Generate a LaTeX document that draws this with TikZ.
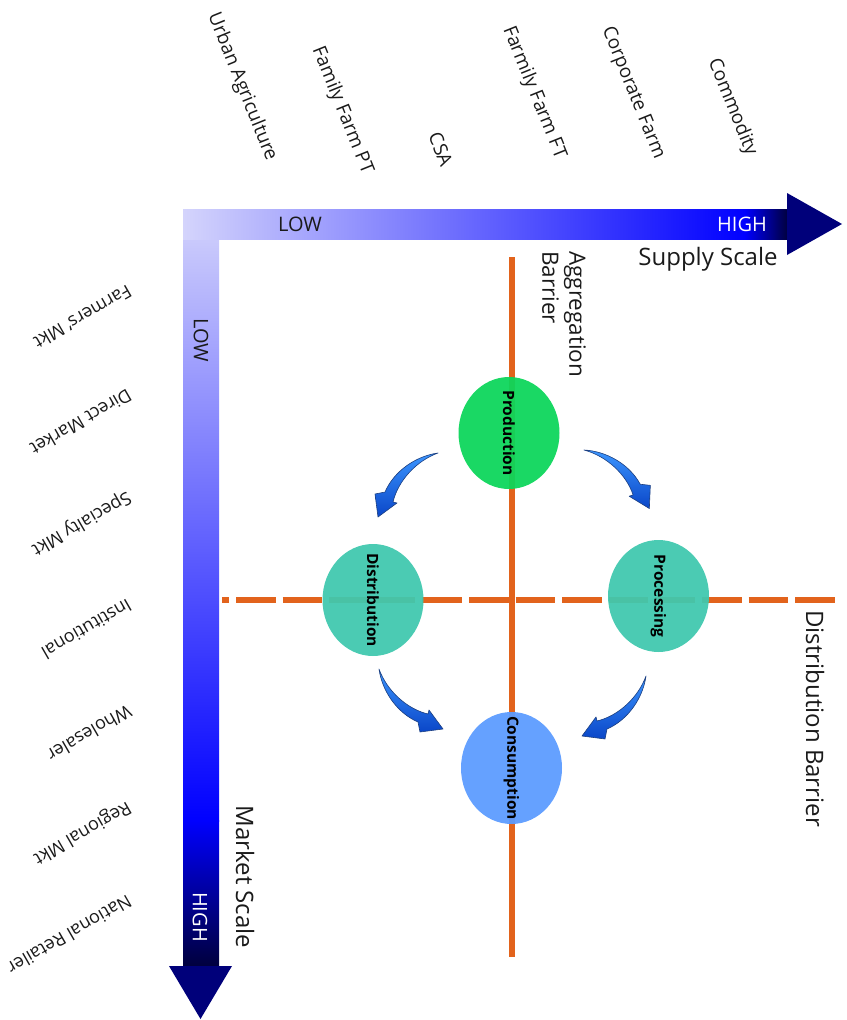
\documentclass[tikz,border=0pt]{standalone}
\usepackage{fontspec}
\setmainfont{Open Sans}
\usetikzlibrary{shapes.geometric}
\definecolor{barorange}{HTML}{E2631C}
\definecolor{lightbar}{HTML}{D4D4FC}
\definecolor{darkbar}{HTML}{00003C}
\definecolor{headnavy}{HTML}{00007A}
\definecolor{prodgreen}{HTML}{0CD65A}
\definecolor{teal}{HTML}{40C8AE}
\definecolor{consblue}{HTML}{5B9BFF}
\definecolor{arrlight}{HTML}{3C96FF}
\definecolor{arrdark}{HTML}{0A46C8}
\definecolor{arrline}{HTML}{1C3F80}
\definecolor{txt}{HTML}{1A1A1A}
\begin{document}
\begin{tikzpicture}[x=1pt,y=-1pt,
  toplbl/.style={inner sep=0pt, font=\fontsize{19}{22}\selectfont, text=txt, rotate=-68, anchor=base east},
  sidelbl/.style={inner sep=0pt, font=\fontsize{18}{21}\selectfont, text=txt, rotate=210, anchor=base west},
  biglbl/.style={inner sep=0pt, font=\fontsize{24}{29}\selectfont, text=txt},
  scalelbl/.style={inner sep=0pt, font=\fontsize{20}{23}\selectfont},
  phase/.style={ellipse, inner sep=0pt, minimum width=101pt, minimum height=112pt, fill opacity=0.94},
  phasetxt/.style={inner sep=0pt, rotate=-90, font=\fontsize{15.5}{18}\selectfont\bfseries, text=black},
  barrier/.style={draw=barorange, line width=6.5pt},
  curvarr/.pic={\shadedraw[top color=arrlight, bottom color=arrdark, draw=arrline, line width=0.6pt, line join=round]
     (0,0) .. controls (-22,3) and (-44,18) .. (-53,39) -- (-63,41) -- (-60,64) -- (-41,50) -- (-45,49)
     .. controls (-40,28) and (-22,8) .. (0,0) -- cycle;}
]
\useasboundingbox (0,0) rectangle (846,1020);

% top labels
\node[toplbl] (ua) at (267,162) {Urban Agriculture};
\node[toplbl] (ffpt) at (363,175) {Family Farm PT};
\node[toplbl] (csa) at (441,168) {CSA};
\node[toplbl] (ffft) at (556,160) {Farmily Farm FT};
\node[toplbl] (cf) at (655,160) {Corporate Farm};
\node[toplbl] (com) at (747,157) {Commodity};

% side labels
\node[sidelbl] (fm) at (127,284) {Farmers' Mkt};
\node[sidelbl] (dm) at (127,388) {Direct Market};
\node[sidelbl] (sm) at (127,491) {Specialty Mkt};
\node[sidelbl] (inst) at (127,598) {Institutional};
\node[sidelbl] (wh) at (127,704) {Wholesaler};
\node[sidelbl] (rm) at (127,801) {Regional Mkt};
\node[sidelbl] (nr) at (127,894) {National Retailer};

% vertical bar (market scale)
\shade[top color=lightbar, bottom color=blue] (183,209) rectangle (219,821);
\shade[top color=blue, bottom color=darkbar] (183,820) rectangle (219,967);
\fill[headnavy] (169,966) -- (232,966) -- (200.5,1019) -- cycle;
% horizontal bar (supply scale)
\shade[left color=lightbar, right color=blue] (183,209) rectangle (746,239);
\shade[left color=blue, right color=darkbar] (745,209) rectangle (788,239);
\fill[headnavy] (787,193) -- (842,224) -- (787,255) -- cycle;

\node[scalelbl, text=txt] (hlow) at (300,224) {LOW};
\node[scalelbl, text=white] (hhigh) at (742,224) {HIGH};
\node[scalelbl, text=txt, rotate=-90] (vlow) at (201,340) {LOW};
\node[scalelbl, text=white, rotate=-90] (vhigh) at (200,917) {HIGH};

\node[biglbl] (ss) at (708,259) {Supply Scale};
\node[biglbl, rotate=-90] (ms) at (245,877) {Market Scale};
\node[biglbl, font=\fontsize{22.5}{27}\selectfont, rotate=-90, align=left, anchor=north west] (agg) at (586,251) {Aggregation\\Barrier};
\node[biglbl, rotate=-90, anchor=west] (db) at (815,610) {Distribution Barrier};

% barriers
\coordinate (aggT) at (512,257);
\coordinate (aggB) at (512,957);
\coordinate (disL) at (222,600);
\coordinate (disR) at (836,600);
\draw[barrier] (aggT) -- (aggB);
\draw[barrier, line width=6pt, dash pattern=on 39.6pt off 7pt, dash phase=32.6pt] (disL) -- (disR);

% phases
\node[phase, fill=prodgreen] (prod) at (509,433) {};
\node[phase, fill=teal] (dist) at (373,600) {};
\node[phase, fill=teal] (proc) at (658.5,596) {};
\node[phase, fill=consblue] (cons) at (511.5,768) {};
\node[phasetxt] (prodT) at (prod.center) {Production};
\node[phasetxt] (distT) at (dist.center) {Distribution};
\node[phasetxt] (procT) at (proc.center) {Processing};
\node[phasetxt] (consT) at (cons.center) {Consumption};

% curved arrows
\path (438,453) pic {curvarr};
\path (584,450) pic[rotate=5, xscale=-1] {curvarr};
\path (379,669) pic[rotate=90] {curvarr};
\path (646,676) pic[cm={0,1,1,0,(0,0)}] {curvarr};
\end{tikzpicture}
\end{document}
